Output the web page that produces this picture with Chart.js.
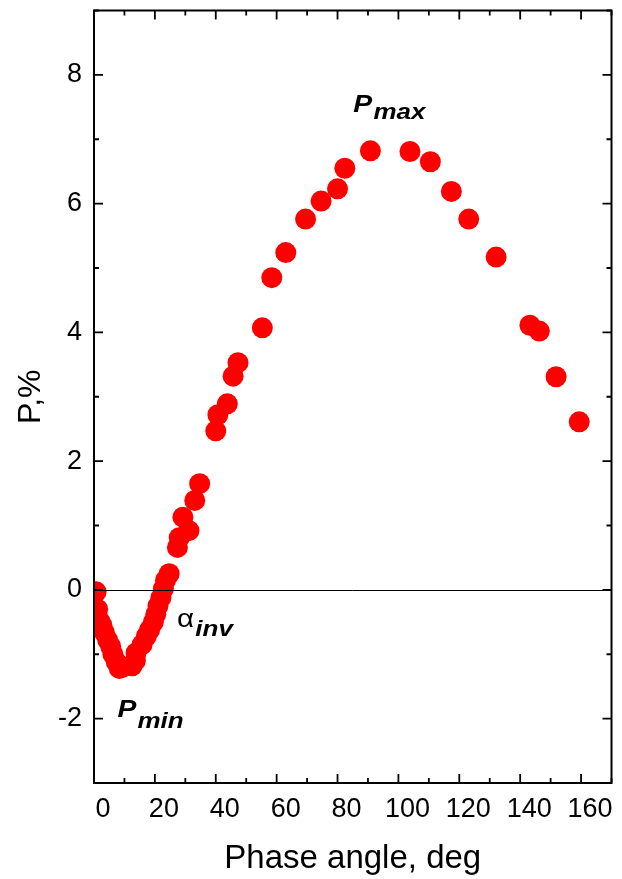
<!DOCTYPE html>
<html>
<head>
<meta charset="utf-8">
<script src="https://cdn.jsdelivr.net/npm/chart.js@4.4.1/dist/chart.umd.min.js"></script>
<style>
  html, body { margin: 0; padding: 0; background: #fff; }
  #wrap { width: 622px; height: 879px; }
</style>
</head>
<body>
<div id="wrap"><canvas id="pol"></canvas></div>
<script>
// phase angle (deg) and polarization (%)
const phaseAngle = [0.7, 1.2, 1.8, 2.6, 3.4, 4.5, 5.5, 6.2, 7.3, 8.3, 9.5,
  12.5, 13.6, 13.8, 15.8, 17.2, 18.3, 19.5, 20.3, 21.0, 22.0, 22.8, 23.5, 24.7,
  27.4, 28.0, 29.2, 31.2, 33.1, 34.7, 40.0, 40.7, 43.8, 45.7, 47.3, 55.3, 58.4,
  63.0, 69.5, 74.6, 80.0, 82.4, 90.8, 103.8, 110.5, 117.4, 123.1, 132.1,
  143.2, 146.3, 151.8, 159.4];
const polarization = [-0.03, -0.3, -0.48, -0.55, -0.66, -0.78, -0.88, -1.0, -1.12, -1.22, -1.2,
  -1.18, -1.1, -0.98, -0.85, -0.72, -0.62, -0.5, -0.38, -0.25, -0.12, 0.02, 0.15, 0.25,
  0.66, 0.81, 1.13, 0.92, 1.39, 1.65, 2.47, 2.72, 2.89, 3.32, 3.53, 4.07, 4.85,
  5.24, 5.76, 6.04, 6.23, 6.55, 6.82, 6.81, 6.65, 6.19, 5.76, 5.17,
  4.11, 4.02, 3.31, 2.61];

const xTicks = [0, 20, 40, 60, 80, 100, 120, 140, 160];
const yTicks = [-2, 0, 2, 4, 6, 8];

const FONT = "'Liberation Sans', Arial, sans-serif";

// frame with inward ticks on all four sides, plus the zero line
const framePlugin = {
  id: 'frame',
  afterDatasetsDraw(chart) {
    const { ctx, chartArea: a, scales: { x, y } } = chart;
    ctx.save();
    // zero line
    ctx.strokeStyle = '#000';
    ctx.lineWidth = 1;
    ctx.beginPath();
    ctx.moveTo(a.left, Math.round(y.getPixelForValue(0)) + 0.5);
    ctx.lineTo(a.right, Math.round(y.getPixelForValue(0)) + 0.5);
    ctx.stroke();

    ctx.lineWidth = 2;
    ctx.strokeRect(a.left, a.top, a.right - a.left, a.bottom - a.top);

    ctx.lineWidth = 1.8;
    ctx.beginPath();
    for (let v = x.min; v <= x.max; v += 10) {
      const px = x.getPixelForValue(v);
      const len = v % 20 === 0 ? 9 : 5;
      ctx.moveTo(px, a.bottom); ctx.lineTo(px, a.bottom - len);
      ctx.moveTo(px, a.top); ctx.lineTo(px, a.top + len);
    }
    for (let v = -3; v <= 9; v += 1) {
      const py = y.getPixelForValue(v);
      const len = v % 2 === 0 ? 9 : 5;
      ctx.moveTo(a.left, py); ctx.lineTo(a.left + len, py);
      ctx.moveTo(a.right, py); ctx.lineTo(a.right - len, py);
    }
    ctx.stroke();
    ctx.restore();
  },
  afterDraw(chart) {
    const { ctx, scales: { x, y } } = chart;
    ctx.save();
    ctx.fillStyle = '#000';
    ctx.textBaseline = 'alphabetic';
    ctx.textAlign = 'left';

    // labels look a bit wide in the original, so stretch them sideways
    function sub(main, mainFont, subText, deg, p, dy) {
      const px = x.getPixelForValue(deg);
      const py = y.getPixelForValue(p);
      ctx.save();
      ctx.translate(px, py);
      ctx.scale(1.18, 1);
      ctx.font = mainFont;
      ctx.fillText(main, 0, 0);
      const w = ctx.measureText(main).width;
      ctx.font = 'italic bold 22px ' + FONT;
      ctx.fillText(subText, w + 1, dy);
      ctx.restore();
    }
    sub('P', 'italic bold 24px ' + FONT, 'max', 85.2, 7.43, 7);
    sub('P', 'italic bold 24px ' + FONT, 'min', 7.7, -1.97, 11);
    sub('\u03b1', '25px ' + FONT, 'inv', 27.3, -0.58, 9);
    ctx.restore();
  }
};

const ctx = document.getElementById('pol');

new Chart(ctx, {
  type: 'scatter',
  data: {
    datasets: [
      {
        data: phaseAngle.map((a, i) => ({ x: a, y: polarization[i] })),
        backgroundColor: '#ff0000',
        borderWidth: 0,
        pointRadius: 10.5,
        pointHoverRadius: 10.5,
        clip: 0,
      },
    ],
  },
  options: {
    responsive: true,
    maintainAspectRatio: false,
    animation: false,
    events: [],
    layout: { padding: { top: 8, right: 8, left: 0, bottom: 0 } },
    plugins: { legend: { display: false }, tooltip: { enabled: false } },
    scales: {
      x: {
        type: 'linear',
        min: 0,
        max: 170,
        afterBuildTicks: (s) => { s.ticks = xTicks.map(v => ({ value: v })); },
        afterFit: (s) => { s.height = 96; s.paddingLeft = 0; s.paddingRight = 0; },
        grid: { display: false, drawTicks: false },
        border: { display: false },
        ticks: { color: '#000', font: { family: FONT, size: 27 }, padding: 10, labelOffset: 9, maxRotation: 0, autoSkip: false },
        title: { display: true, text: 'Phase angle, deg', color: '#000', font: { family: FONT, size: 33 }, padding: { top: 0, bottom: 0 } },
      },
      y: {
        type: 'linear',
        min: -3,
        max: 9,
        afterBuildTicks: (s) => { s.ticks = yTicks.map(v => ({ value: v })); },
        afterFit: (s) => { s.width = 94; s.paddingTop = 0; s.paddingBottom = 0; },
        grid: { display: false, drawTicks: false },
        border: { display: false },
        ticks: { color: '#000', font: { family: FONT, size: 27 }, padding: 12, autoSkip: false },
        title: { display: true, text: 'P,%', color: '#000', font: { family: FONT, size: 32 }, padding: { top: 12, bottom: 0 } },
      },
    },
  },
  plugins: [framePlugin],
});
</script>
</body>
</html>
